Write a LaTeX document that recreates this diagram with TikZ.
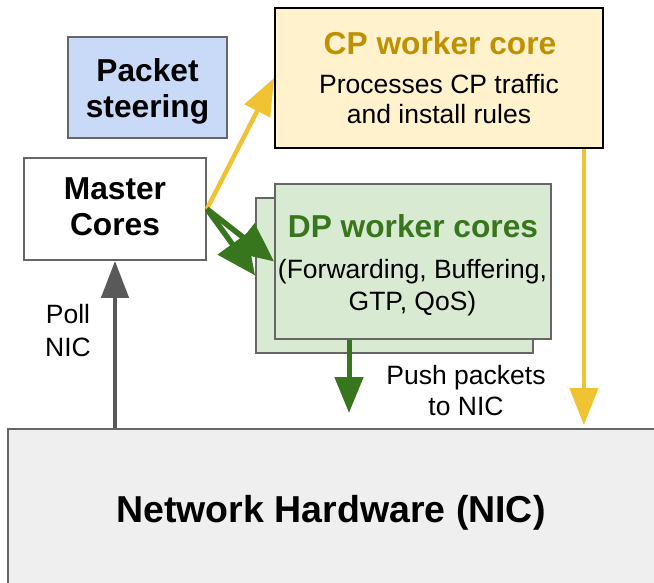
\documentclass[tikz,border=0pt]{standalone}
\usepackage{fontspec}
\setmainfont{Liberation Sans}
\usetikzlibrary{arrows.meta}
\definecolor{steerblue}{HTML}{C9DAF8}
\definecolor{cpfill}{HTML}{FFF2CC}
\definecolor{dpfill}{HTML}{D9EAD3}
\definecolor{nicfill}{HTML}{EFEFEF}
\definecolor{framegray}{HTML}{666666}
\definecolor{cpgold}{HTML}{BF9000}
\definecolor{dpgreen}{HTML}{38761D}
\definecolor{flowyellow}{HTML}{F1C232}
\definecolor{pollgray}{HTML}{595959}

\begin{document}
\begin{tikzpicture}[x=1pt,y=-1pt,
  box/.style={draw=framegray, line width=1.8pt, inner sep=0pt},
  boldtxt/.style={font=\fontsize{31.7}{36.5}\selectfont\bfseries, align=center, inner sep=0pt, anchor=base},
  plaintxt/.style={font=\fontsize{26.5}{30.5}\selectfont, align=center, inner sep=0pt, anchor=base},
  cpflow/.style={draw=flowyellow, line width=4.5pt, -{Triangle[length=37pt,width=28pt]}},
  dpflow/.style={draw=dpgreen, line width=5pt, -{Triangle[length=36pt,width=28pt]}},
  fanflow/.style={draw=dpgreen, line width=5.5pt, -{Triangle[length=39pt,width=35pt]}},
  pollflow/.style={draw=pollgray, line width=4.5pt, -{Triangle[length=37pt,width=27pt]}}]

\useasboundingbox (0,0) rectangle (654,583);

% boxes
\node[box, fill=steerblue, minimum width=159pt, minimum height=101pt] (steer) at (147.5,87.5) {};
\node[box, fill=white, minimum width=182pt, minimum height=102pt] (master) at (115,209) {};
\node[box, draw=black, fill=cpfill, minimum width=328pt, minimum height=140pt] (cp) at (439,78) {};
\node[box, fill=dpfill, minimum width=277pt, minimum height=155pt] (dpb) at (394.5,275.5) {};
\node[box, fill=dpfill, minimum width=276pt, minimum height=155pt] (dpf) at (413,261.5) {};
\node[box, fill=nicfill, minimum width=660pt, minimum height=170pt] (nic) at (338,514) {};

% box texts (multi-line nodes are placed by the baseline of their last line)
\node[boldtxt] (steertxt) at (147.5,118) {Packet\\steering};
\node[boldtxt] (mastertxt) at (115,236) {Master\\Cores};
\node[boldtxt, text=cpgold] (cptitle) at (440,55) {CP worker core};
\node[plaintxt] (cpbody) at (439,124) {Processes CP traffic\\and install rules};
\node[boldtxt, text=dpgreen] (dptitle) at (413,238) {DP worker cores};
\node[plaintxt, font=\fontsize{26.5}{32}\selectfont] (dpbody) at (412.5,310) {(Forwarding, Buffering,\\GTP, QoS)};
\node[font=\fontsize{37.5}{43}\selectfont\bfseries, inner sep=0pt, anchor=base] (nictxt) at (331,522) {Network Hardware (NIC)};

% arrow labels
\node[plaintxt, font=\fontsize{26.5}{33}\selectfont] (polltxt) at (68,356) {Poll\\NIC};
\node[plaintxt] (pushtxt) at (466,415) {Push packets\\to NIC};

% connectors
\coordinate (cpdrop) at ([xshift=-20pt]cp.south east);
\coordinate (pushsrc) at ([xshift=-64pt]dpf.south);
\coordinate (pushend) at (349,413);

\draw[cpflow] (master.east) -- (cp.west);
\draw[fanflow] (master.east) -- (dpb.west);
\draw[fanflow] (master.east) -- (dpf.west);
\draw[cpflow, shorten >=3pt] (cpdrop) -- (cpdrop |- nic.north);
\draw[pollflow] (master.south |- nic.north) -- (master.south);
\draw[dpflow] (pushsrc) -- (pushend);
\end{tikzpicture}
\end{document}
